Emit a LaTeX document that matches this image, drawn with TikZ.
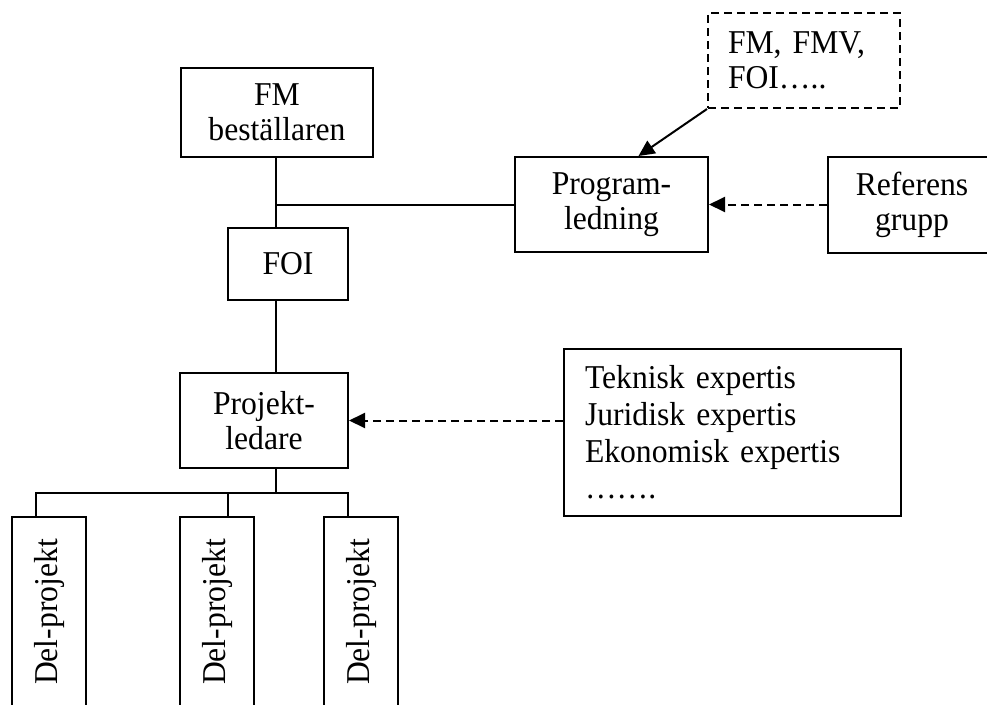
\documentclass[tikz,border=0pt]{standalone}
\usepackage{fontspec}
\setmainfont{Liberation Serif}[FakeStretch=0.95]
\usetikzlibrary{arrows.meta}
\begin{document}
\begin{tikzpicture}[x=1pt,y=-1pt,
  box/.style={draw,line width=2pt,inner sep=0pt,align=center,font=\fontsize{33.3}{35}\selectfont},
  conn/.style={line width=2pt},
  dsh/.style={line width=2pt,dash pattern=on 8pt off 5pt},
  tip/.style={-{Triangle[length=16pt,width=15pt]}}]
\useasboundingbox (0,0) rectangle (987,704);
\clip (0,0) rectangle (987,704);
\node[box,minimum width=192pt,minimum height=89pt] (fm) at (277,112.5) {FM\\beställaren};
\node[box,minimum width=120pt,minimum height=72pt] (foi) at (288,264) {FOI};
\node[box,minimum width=193pt,minimum height=95pt] (prog) at (611.5,204.5) {Program-\\ledning};
\node[box,minimum width=168pt,minimum height=96pt] (ref) at (912,204.5) {Referens\\grupp};
\node[box,dsh,align=left,text width=152pt,inner xsep=20pt,minimum height=95pt] (src) at (804,60.5) {FM, FMV,\\FOI…..};
\node[box,minimum width=168pt,minimum height=95pt] (proj) at (264,420.5) {Projekt-\\ledare};
\node[box,align=left,text width=295pt,inner xsep=21pt,minimum height=167pt,font=\fontsize{33.3}{36.7}\selectfont] (exp) at (732.5,432.5) {Teknisk expertis\\Juridisk expertis\\Ekonomisk expertis\\…….};
\node[box,rotate=90,minimum width=190pt,minimum height=74pt] (d1) at (49,612) {\raisebox{3.8pt}{Del-projekt}};
\node[box,rotate=90,minimum width=190pt,minimum height=74pt] (d2) at (217,612) {\raisebox{3.8pt}{Del-projekt}};
\node[box,rotate=90,minimum width=190pt,minimum height=74pt] (d3) at (361,612) {\raisebox{3.8pt}{Del-projekt}};
\coordinate (spine) at (276,0);
\coordinate (br) at (276,493);
\coordinate (c1) at (36,493);
\coordinate (c2) at (228,493);
\coordinate (c3) at (348,493);
\draw[conn] (fm.south -| spine) -- (foi.north -| spine);
\draw[conn] (prog.west -| spine) -- (prog.west);
\draw[conn] (foi.south -| spine) -- (proj.north -| spine);
\draw[conn] (proj.south -| spine) -- (br);
\draw[conn,line cap=rect] (c1) -- (c3);
\draw[conn] (c1) -- (c1 |- d1.east);
\draw[conn] (c2) -- (c2 |- d2.east);
\draw[conn] (c3) -- (c3 |- d3.east);
\draw[conn,tip] (src.south west) -- ([xshift=27pt]prog.north);
\draw[dsh,tip] (ref.west) -- (prog.east);
\draw[dsh,tip] (proj.east -| exp.west) -- (proj.east);
\end{tikzpicture}
\end{document}
